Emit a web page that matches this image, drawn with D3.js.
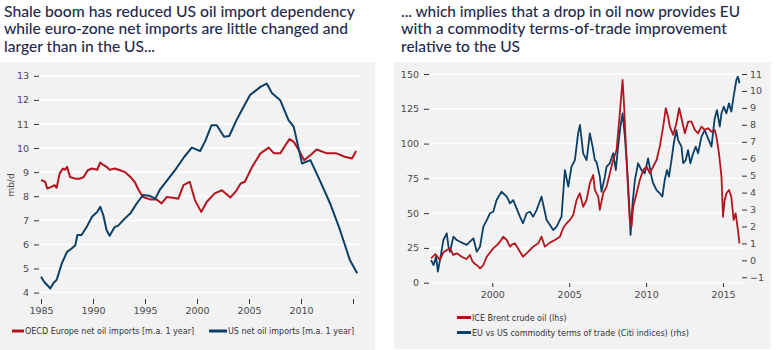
<!DOCTYPE html>
<html>
<head>
<meta charset="utf-8">
<script src="https://cdn.jsdelivr.net/npm/d3@7"></script>
<style>
  html, body { margin: 0; padding: 0; background: #fff; }
  svg { display: block; }
</style>
</head>
<body>
<div id="chart"></div>
<script>
// ── data: left panel (mb/d, 1-year moving average) ───────────────
const usYears = [1985.0, 1985.3, 1985.9, 1986.2, 1986.5, 1987.0, 1987.5, 1987.95, 1988.3, 1988.5,
  1988.9, 1989.4, 1989.9, 1990.4, 1990.7, 1991.0, 1991.3, 1991.6, 1992.1, 1992.4,
  1993.0, 1993.6, 1994.2, 1994.8, 1995.4, 1996.0, 1996.4, 1997.2, 1998.0, 1998.8,
  1999.5, 2000.3, 2000.8, 2001.4, 2001.9, 2002.6, 2003.1, 2003.8, 2004.3, 2005.1,
  2006.1, 2006.7, 2007.2, 2008.0, 2008.8, 2009.3, 2010.1, 2010.9, 2011.8, 2012.8,
  2013.75, 2014.7, 2015.4]
const usImports = [4.66, 4.45, 4.17, 4.4, 4.52, 5.21, 5.69, 5.83, 5.97, 6.39,
  6.39, 6.73, 7.15, 7.35, 7.56, 7.2, 6.6, 6.36, 6.73, 6.77,
  7.05, 7.29, 7.7, 8.05, 8.02, 7.9, 8.25, 8.7, 9.15, 9.65,
  10.02, 9.88, 10.3, 10.95, 10.95, 10.47, 10.5, 11.16, 11.57, 12.2,
  12.54, 12.68, 12.29, 11.99, 11.16, 10.88, 9.36, 9.5, 8.67, 7.7,
  6.6, 5.35, 4.8]

const euYears = [1985.0, 1985.4, 1985.6, 1986.0, 1986.3, 1986.5, 1986.8, 1987.1, 1987.3, 1987.5,
  1987.8, 1988.3, 1988.75, 1989.1, 1989.5, 1989.9, 1990.4, 1990.7, 1991.0, 1991.3,
  1991.6, 1992.1, 1992.6, 1993.1, 1993.6, 1994.0, 1994.4, 1994.8, 1995.5, 1996.1,
  1996.6, 1997.1, 1997.7, 1998.2, 1998.7, 1999.3, 1999.8, 2000.4, 2000.95, 2001.7,
  2002.4, 2003.2, 2003.7, 2004.2, 2004.6, 2005.3, 2006.1, 2006.9, 2007.4, 2008.0,
  2008.5, 2008.9, 2009.3, 2009.8, 2010.3, 2010.9, 2011.5, 2012.5, 2013.4, 2014.2,
  2014.9, 2015.3]
const euImports = [8.67, 8.6, 8.32, 8.39, 8.46, 8.35, 8.95, 9.15, 9.1, 9.22,
  8.8, 8.73, 8.73, 8.8, 9.08, 9.15, 9.1, 9.4, 9.3, 9.22,
  9.1, 9.15, 9.08, 9.0, 8.8, 8.6, 8.25, 7.97, 7.87, 7.87,
  7.7, 7.97, 7.94, 7.9, 8.46, 8.6, 7.84, 7.35, 7.77, 8.12,
  8.25, 7.95, 8.18, 8.53, 8.6, 9.22, 9.78, 10.02, 9.78, 9.78,
  10.12, 10.37, 10.26, 9.91, 9.5, 9.7, 9.94, 9.78, 9.78, 9.64,
  9.57, 9.88]

const leftYTicks = [4, 5, 6, 7, 8, 9, 10, 11, 12, 13]
const leftXTicks = [1985, 1990, 1995, 2000, 2005, 2010, 2015]

// ── data: right panel ─────────────────────────────────────────────
const brentYears = [1996.02, 1996.3, 1996.6, 1996.8, 1997.04, 1997.25, 1997.45, 1997.69, 1998.01, 1998.3,
  1998.55, 1998.7, 1998.88, 1999.05, 1999.2, 1999.42,
  1999.64, 2000.06, 2000.3, 2000.5, 2000.71, 2000.94, 2001.15, 2001.3, 2001.47, 2001.8, 2002.0, 2002.34,
  2002.66, 2002.99, 2003.2, 2003.42, 2003.75, 2004.07, 2004.4, 2004.6, 2004.83, 2005.05,
  2005.26, 2005.48, 2005.69, 2005.91, 2006.13, 2006.34, 2006.56, 2006.67, 2006.89, 2006.99,
  2007.21, 2007.43, 2007.64, 2007.86, 2008.08, 2008.29, 2008.47, 2008.55, 2008.68, 2008.84,
  2008.94, 2009.05, 2009.16, 2009.38, 2009.59, 2009.81, 2010.03, 2010.24, 2010.46, 2010.68,
  2010.89, 2011.11, 2011.28, 2011.43, 2011.54, 2011.76, 2011.97, 2012.15, 2012.3, 2012.52,
  2012.73, 2012.95, 2013.17, 2013.38, 2013.6, 2013.81, 2014.03, 2014.25, 2014.46, 2014.57,
  2014.74, 2014.9, 2015.0, 2015.11, 2015.22, 2015.39, 2015.54, 2015.69, 2015.82, 2015.97,
  2016.07]
const brentPrice = [17.5, 20.5, 16.3, 21.5, 23.5, 24.7, 20.0, 21.1, 18.7, 17.0,
  19.9, 15.5, 13.4, 12.2, 10.3, 12.7,
  18.7, 24.7, 27.0, 29.5, 33.1, 30.7, 25.9, 27.5, 28.3, 22.3, 18.7, 22.3,
  25.9, 28.3, 33.1, 25.9, 28.8, 30.7, 33.1, 39.1, 42.7, 45.1,
  48.7, 59.5, 64.3, 54.6, 59.5, 71.4, 77.4, 66.6, 61.8, 52.3,
  64.3, 69.0, 78.6, 88.2, 95.4, 121.8, 145.7, 131.3, 100.2, 64.3,
  45.1, 40.3, 54.6, 64.3, 73.8, 81.0, 83.4, 78.6, 83.4, 88.2,
  97.8, 112.2, 125.4, 119.3, 112.2, 106.2, 114.6, 125.4, 118.2, 107.4,
  115.7, 115.7, 109.8, 107.4, 112.2, 109.8, 111.0, 108.6, 109.8, 105.0,
  93.0, 76.2, 47.4, 59.5, 64.3, 66.6, 61.8, 45.1, 49.9, 37.9,
  28.3]

const totYears = [1996.02, 1996.18, 1996.35, 1996.46, 1996.6, 1996.82, 1997.04, 1997.15, 1997.25, 1997.47,
  1997.69, 1997.9, 1998.12, 1998.34, 1998.55, 1998.77, 1998.99, 1999.2, 1999.42, 1999.64,
  1999.85, 2000.06, 2000.28, 2000.6, 2000.94, 2001.15, 2001.36, 2001.58, 2001.8, 2002.0,
  2002.23, 2002.45, 2002.66, 2002.88, 2003.2, 2003.53, 2003.75, 2003.96, 2004.18, 2004.5,
  2004.72, 2004.94, 2005.15, 2005.37, 2005.58, 2005.7, 2005.91, 2006.13, 2006.24, 2006.34,
  2006.52, 2006.67, 2006.78, 2006.99, 2007.1, 2007.32, 2007.43, 2007.64, 2007.86, 2008.03,
  2008.18, 2008.33, 2008.47, 2008.62, 2008.73, 2008.84, 2008.94, 2008.99, 2009.12, 2009.27,
  2009.48, 2009.7, 2009.91, 2010.13, 2010.35, 2010.46, 2010.68, 2010.89, 2011.06, 2011.21,
  2011.36, 2011.49, 2011.65, 2011.8, 2011.97, 2012.08, 2012.3, 2012.41, 2012.58, 2012.73,
  2012.88, 2013.06, 2013.23, 2013.38, 2013.6, 2013.81, 2014.03, 2014.25, 2014.46, 2014.61,
  2014.79, 2014.9, 2015.05, 2015.22, 2015.39, 2015.54, 2015.69, 2015.87, 2015.97, 2016.07]
const totIndex = [0.02, -0.28, 0.22, -0.67, 0.02, 1.2, 1.59, 0.81, 0.51, 1.4,
  1.2, 1.1, 1.0, 0.91, 1.1, 1.3, 0.51, 0.81, 1.99, 2.38,
  2.78, 2.87, 3.56, 4.05, 3.76, 3.37, 3.56, 3.07, 2.58, 2.19,
  2.78, 2.87, 2.58, 2.97, 3.76, 2.38, 2.09, 1.79, 1.99, 2.58,
  5.33, 4.35, 5.53, 5.92, 7.5, 7.99, 6.32, 5.92, 6.71, 7.5,
  6.71, 5.92, 5.8, 4.94, 4.05, 4.94, 5.53, 5.73, 6.32, 5.33,
  6.71, 7.89, 8.68, 7.3, 5.92, 4.35, 2.58, 1.5, 3.37, 4.74,
  5.73, 5.33, 5.14, 6.02, 4.94, 4.55, 4.15, 3.96, 3.76, 4.74,
  5.33, 4.94, 5.92, 6.91, 7.69, 7.1, 6.71, 5.73, 5.92, 6.51,
  5.73, 6.32, 6.71, 6.32, 7.3, 7.69, 7.2, 6.71, 8.38, 8.87,
  7.89, 8.68, 9.07, 8.68, 9.27, 8.78, 9.66, 10.65, 10.84, 10.45]

const rightYTicksL = [0, 25, 50, 75, 100, 125, 150]
const rightYTicksR = [-1, 0, 1, 2, 3, 4, 5, 6, 7, 8, 9, 10, 11]
const rightXTicks = [2000, 2005, 2010, 2015]

const RED = '#b5141e'
const BLUE = '#0b3f66'
const TITLE = '#1e2b4d'
const AXIS_FONT = '"DejaVu Sans", Verdana, sans-serif'

const svg = d3.select('#chart').append('svg').attr('width', 777).attr('height', 350)

// ── panel backgrounds ─────────────────────────────────────────────
svg.append('rect').attr('x', 0).attr('y', 62).attr('width', 375).attr('height', 288).attr('fill', '#f2f2f2')
svg.append('rect').attr('x', 394).attr('y', 62).attr('width', 377).attr('height', 287).attr('fill', '#f2f2f2')

// ── titles ────────────────────────────────────────────────────────
const titles = [
  { x: 4, lines: [
    ['Shale boom has reduced US oil import dependency', 351],
    ['while euro-zone net imports are little changed and', 344],
    ['larger than in the US...', 151]] },
  { x: 401, lines: [
    ['... which implies that a drop in oil now provides EU', 339],
    ['with a commodity terms-of-trade improvement', 326],
    ['relative to the US', 119]] }
]
titles.forEach(t => {
  t.lines.forEach(([txt, len], i) => {
    svg.append('text').attr('x', t.x).attr('y', 16.5 + i * 17.6)
      .attr('textLength', len).attr('lengthAdjust', 'spacingAndGlyphs')
      .style('font-family', 'Lato, sans-serif').style('font-size', '16px').style('font-weight', 500)
      .attr('fill', TITLE).text(txt)
  })
})

function styleAxis(g) {
  g.attr('font-family', null)
  g.select('.domain').remove()
  g.selectAll('line').attr('stroke', '#333')
  g.selectAll('text').style('font-family', AXIS_FONT).style('font-size', '9.5px').attr('fill', '#4a4a4a')
}

// ── left panel ────────────────────────────────────────────────────
const xL = d3.scaleLinear().domain([1985, 2010]).range([41, 301])
const yL = d3.scaleLinear().domain([4, 13]).range([292.6, 75.8])

const gL = svg.append('g')
gL.selectAll('line.grid').data(leftYTicks).join('line').attr('class', 'grid')
  .attr('x1', 40).attr('x2', 360).attr('y1', d => yL(d)).attr('y2', d => yL(d))
  .attr('stroke', '#fff').attr('stroke-width', 1.5)

gL.append('g').attr('transform', 'translate(39,0)')
  .call(d3.axisLeft(yL).tickValues(leftYTicks).tickSize(5).tickPadding(5))
  .call(styleAxis)
gL.append('g').attr('transform', 'translate(0,299)')
  .call(d3.axisBottom(xL).tickValues(leftXTicks).tickSize(5).tickPadding(3)
    .tickFormat(d => d === 2015 ? '' : d3.format('d')(d)))
  .call(styleAxis)

gL.append('text').attr('transform', 'translate(14,185) rotate(-90)').attr('text-anchor', 'middle')
  .style('font-family', AXIS_FONT).style('font-size', '9px').attr('fill', '#4a4a4a').text('mb/d')

const lineL = (xs, ys) => d3.line().x((d, i) => xL(xs[i])).y(d => yL(d))(ys)
gL.append('path').attr('d', lineL(euYears, euImports))
  .attr('fill', 'none').attr('stroke', RED).attr('stroke-width', 2).attr('stroke-linejoin', 'round')
gL.append('path').attr('d', lineL(usYears, usImports))
  .attr('fill', 'none').attr('stroke', BLUE).attr('stroke-width', 2).attr('stroke-linejoin', 'round')

// ── right panel ───────────────────────────────────────────────────
const xR = d3.scaleLinear().domain([2000, 2015]).range([492.3, 723])
const yRL = d3.scaleLinear().domain([0, 150]).range([282.7, 74])
const yRR = d3.scaleLinear().domain([-1, 11]).range([277.3, 74])

const gR = svg.append('g')
gR.selectAll('line.grid').data(rightYTicksL).join('line').attr('class', 'grid')
  .attr('x1', 430).attr('x2', 743).attr('y1', d => yRL(d)).attr('y2', d => yRL(d))
  .attr('stroke', '#fff').attr('stroke-width', 1.5)

gR.append('g').attr('transform', 'translate(429,0)')
  .call(d3.axisLeft(yRL).tickValues(rightYTicksL).tickSize(5).tickPadding(5))
  .call(styleAxis)
gR.append('g').attr('transform', 'translate(742,0)')
  .call(d3.axisRight(yRR).tickValues(rightYTicksR).tickSize(5).tickPadding(3))
  .call(styleAxis)
gR.append('g').attr('transform', 'translate(0,283)')
  .call(d3.axisBottom(xR).tickValues(rightXTicks).tickSize(4).tickPadding(4).tickFormat(d3.format('d')))
  .call(styleAxis)

gR.append('path')
  .attr('d', d3.line().x((d, i) => xR(totYears[i])).y(d => yRR(d))(totIndex))
  .attr('fill', 'none').attr('stroke', BLUE).attr('stroke-width', 1.8).attr('stroke-linejoin', 'round')
gR.append('path')
  .attr('d', d3.line().x((d, i) => xR(brentYears[i])).y(d => yRL(d))(brentPrice))
  .attr('fill', 'none').attr('stroke', RED).attr('stroke-width', 1.8).attr('stroke-linejoin', 'round')

// ── legends ───────────────────────────────────────────────────────
const legends = [
  { x: 12, y: 331, w: 12, color: RED, text: 'OECD Europe net oil imports [m.a. 1 year]' },
  { x: 209, y: 331, w: 18, color: BLUE, text: 'US net oil imports [m.a. 1 year]' },
  { x: 457, y: 317.5, w: 14, color: RED, text: 'ICE Brent crude oil (lhs)' },
  { x: 457, y: 332.5, w: 14, color: BLUE, text: 'EU vs US commodity terms of trade (Citi indices) (rhs)' }
]
legends.forEach(l => {
  svg.append('rect').attr('x', l.x).attr('y', l.y - 1.5).attr('width', l.w).attr('height', 3).attr('fill', l.color)
  svg.append('text').attr('x', l.x + l.w + 1).attr('y', l.y + 3)
    .style('font-family', AXIS_FONT).style('font-size', '8px').attr('fill', '#333').text(l.text)
})
</script>
</body>
</html>
